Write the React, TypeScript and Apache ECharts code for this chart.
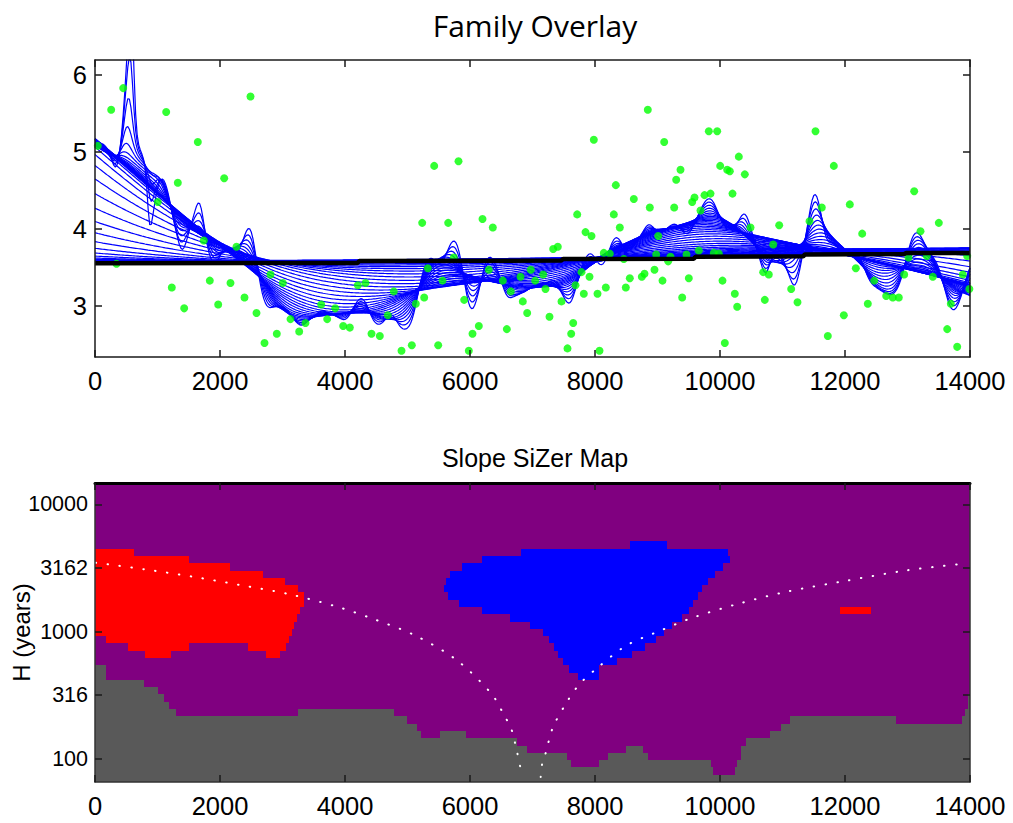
import React, { useEffect, useRef } from "react";
import * as echarts from "echarts";

// ---------- observations (age in years, proxy value) ----------
const ages = [
  45, 259, 344, 451, 1005, 1139, 1229, 1325, 1427, 1645, 1741, 1837, 1971, 2067, 2168, 2264, 2392, 2488, 2584, 2712, 2808, 2909, 3005, 3128, 3267, 3368,
  3619, 3715, 3843, 3971, 4077, 4205, 4328, 4424, 4557, 4685, 4781, 4904, 5069, 5133, 5235, 5267, 5325, 5427, 5491, 5560, 5651, 5741, 5816, 5907, 5981, 6040, 6141, 6200, 6301, 6365, 6525, 6589, 6653, 6808, 6845, 6915, 6973, 7043,
  7171, 7208, 7272, 7331, 7405, 7464, 7560, 7619, 7651, 7688, 7715, 7784, 7821, 7848, 7912, 7944, 7981, 8040, 8072, 8141, 8173, 8237, 8301, 8333, 8397, 8461, 8493, 8557, 8621, 8749, 8792, 8845, 8877, 8952, 8979, 9011, 9080, 9107, 9171, 9208, 9267, 9299, 9368, 9395, 9464, 9501, 9555, 9592, 9661, 9688, 9752, 9821, 9848, 9901, 9955, 9981, 10003, 10040, 10077, 10115, 10157, 10200, 10237, 10275, 10301, 10397, 10488,
  10691, 10717, 10781, 10851, 10947, 11139, 11240, 11432, 11528, 11629, 11725, 11821, 11981, 12077, 12173, 12275, 12365, 12467, 12659, 12765, 12861, 12947, 13016, 13107, 13208, 13309, 13405, 13501, 13635, 13693, 13795, 13885, 13955, 13990,
];
const values = [
  5.08, 5.55, 3.55, 5.83, 4.35, 5.52, 3.24, 4.6, 2.97, 5.13, 3.85, 3.33, 3.02, 4.66, 3.3, 3.77, 3.11, 5.72, 2.91, 2.52, 3.41, 2.64, 3.3, 2.83, 2.67, 2.78,
  3.02, 2.83, 2.97, 2.74, 2.72, 3.27, 3.3, 2.64, 2.61, 2.88, 3.19, 2.42, 2.49, 3.03, 4.08, 3.11, 3.49, 4.82, 2.49, 3.33, 4.08, 3.63, 4.88, 3.08, 2.42, 2.64, 2.74, 4.13, 3.47, 4.02, 3.33, 2.7, 3.19, 3.38, 3.06, 2.91, 3.47, 3.33,
  3.41, 3.22, 2.86, 3.74, 3.77, 3.06, 2.45, 2.64, 2.78, 3.27, 4.19, 3.44, 3.16, 3.96, 3.38, 3.91, 5.16, 3.16, 2.42, 3.69, 3.24, 3.68, 4.19, 4.57, 4.02, 3.61, 3.24, 3.36, 4.39, 3.38, 3.42, 5.55, 4.28, 3.47, 3.67, 3.91, 3.33, 5.13, 3.58, 3.64, 4.28, 4.64, 4.77, 3.11, 3.67, 3.36, 4.35, 4.41, 3.72, 4.24, 4.44, 5.27, 4.46, 3.69, 5.27, 3.68, 4.82, 3.33, 2.52, 4.77, 4.75, 4.46, 3.16, 2.99, 4.94, 4.71, 4.02,
  3.44, 3.08, 3.41, 3.8, 4.05, 3.22, 3.05, 4.1, 5.27, 4.28, 2.61, 4.82, 2.88, 4.32, 3.49, 3.94, 3.03, 3.33, 3.13, 3.11, 3.11, 3.41, 3.63, 4.49, 3.97, 3.65, 3.38, 4.08, 2.7, 3.03, 2.47, 3.41, 3.65, 3.22,
];

// highlighted wide-window smooth, as plotted (step-wise)
const highlightAges = [0, 4200, 4230, 7460, 7490, 9580, 9610, 11330, 11360, 12950, 12980, 14000];
const highlightValues = [3.555, 3.56, 3.585, 3.59, 3.61, 3.615, 3.64, 3.645, 3.67, 3.675, 3.688, 3.69];

// ---------- SiZer bandwidth grid (log10 H) ----------
const LOG_H_MIN = 1.818;
const LOG_H_STEP = 0.0573;
const BANDWIDTH_ROWS = 41;
const FAMILY_FIRST_ROW = 4;

// significant decrease: [row, fromAge, toAge]
const decreasingRows = [
  [31, 0, 624], [30, 0, 1504], [29, 0, 2160], [28, 0, 2693], [27, 0, 3040], [26, 0, 3243],
  [25, 0, 3344], [24, 0, 3344], [23, 0, 3280], [23, 11920, 12410], [22, 0, 3227], [21, 0, 3184],
  [20, 0, 3147], [19, 176, 3109], [18, 523, 1504], [18, 2453, 3051], [17, 800, 1216], [17, 2731, 2960],
];
// significant increase: [row, fromAge, toAge]
const increasingRows = [
  [32, 8560, 9147], [31, 6816, 10123], [30, 6187, 10160], [29, 5867, 10043], [28, 5680, 9920],
  [27, 5616, 9813], [26, 5589, 9717], [25, 5653, 9653], [24, 5829, 9573], [23, 6187, 9504],
  [22, 6640, 9387], [21, 6960, 9227], [20, 7173, 9104], [19, 7269, 8976], [18, 7344, 8800],
  [17, 7413, 8587], [16, 7483, 8347], [15, 7584, 8064], [14, 7723, 8064],
];
// too little data: [fromAge, toAge, rows covered from the bottom]
const sparseColumns = [
  [0, 176, 16], [176, 789, 14], [789, 1013, 13], [1013, 1104, 12], [1104, 1184, 11], [1184, 1291, 10],
  [1291, 3243, 9], [3243, 4784, 10], [4784, 4987, 9], [4987, 5147, 8], [5147, 5211, 7], [5211, 5520, 6],
  [5520, 5936, 7], [5936, 6747, 6], [6747, 6907, 5], [6907, 7547, 4], [7547, 7616, 3], [7616, 8064, 2],
  [8064, 8213, 3], [8213, 8496, 4], [8496, 8773, 5], [8773, 8843, 4], [8843, 9856, 3], [9856, 9893, 2],
  [9893, 10240, 1], [10240, 10277, 2], [10277, 10330, 3], [10330, 10416, 5], [10416, 10800, 6],
  [10800, 10976, 7], [10976, 11120, 8], [11120, 12816, 9], [12816, 13867, 8], [13867, 13920, 9],
  [13920, 13970, 10], [13970, 14000, 12],
];

// effective window guides (age, H)
const leftWindowEdge = [
  [10, 3475], [794, 3083], [1563, 2699], [2320, 2322], [3093, 1973], [3840, 1585], [4400, 1284],
  [5120, 933], [5787, 597], [6347, 323], [6560, 214], [6656, 175], [6757, 111], [6837, 72],
];
const rightWindowEdge = [
  [7131, 72], [7152, 90], [7211, 111], [7323, 175], [7509, 259], [7739, 380], [8027, 513],
  [8496, 774], [9029, 1009], [9573, 1291], [10320, 1667], [11067, 2057], [12027, 2512],
  [12987, 3027], [13947, 3436],
];

const xTicks = [0, 2000, 4000, 6000, 8000, 10000, 12000, 14000];
const valueTicks = [3, 4, 5, 6];
const logHTicks = [2, 2.5, 3, 3.5, 4];

const COLORS = ["#595959", "#ff0000", "#0000ff"];
const LABEL_FONT = "'Liberation Sans', Arial, sans-serif";

const rowEdge = (k: number) => LOG_H_MIN + k * LOG_H_STEP;
const LOG_H_MAX = rowEdge(BANDWIDTH_ROWS);

// Gaussian local-linear smooth of the observations
function localLinear(x0: number, h: number): number | null {
  let s0 = 0, s1 = 0, s2 = 0, t0 = 0, t1 = 0;
  for (let i = 0; i < ages.length; i++) {
    const d = ages[i] - x0;
    const w = Math.exp(-0.5 * (d / h) * (d / h));
    s0 += w; s1 += w * d; s2 += w * d * d; t0 += w * values[i]; t1 += w * d * values[i];
  }
  if (s0 < 1e-12) return null;
  const den = s0 * s2 - s1 * s1;
  if (den <= 1e-9 * s0 * s2) return t0 / s0;
  return (s2 * t0 - s1 * t1) / den;
}

function buildOption() {
  const evalAges: number[] = [];
  for (let x = xTicks[0]; x <= xTicks[xTicks.length - 1]; x += 25) evalAges.push(x);

  const familySeries: any[] = [];
  for (let k = FAMILY_FIRST_ROW; k < BANDWIDTH_ROWS; k++) {
    const h = Math.pow(10, rowEdge(k + 0.5));
    familySeries.push({
      type: "line",
      xAxisIndex: 0,
      yAxisIndex: 0,
      data: evalAges.map((x) => [x, localLinear(x, h)]),
      showSymbol: false,
      silent: true,
      lineStyle: { color: "#0000ff", width: 1.2 },
      z: 2,
    });
  }

  const cells: number[][] = [];
  sparseColumns.forEach(([a, b, top]) => cells.push([a, b, rowEdge(0) - 1, rowEdge(top), 0]));
  decreasingRows.forEach(([k, a, b]) => cells.push([a, b, rowEdge(k), rowEdge(k + 1), 1]));
  increasingRows.forEach(([k, a, b]) => cells.push([a, b, rowEdge(k), rowEdge(k + 1), 2]));

  const axisLineStyle = { color: "#1a1a1a", width: 1.5 };
  const tickStyle = { color: "#1a1a1a", width: 1.5 };
  const plainNumber = (v: number) => String(v);

  const xBase = (grid: number, position: string, showLabel: boolean, lineWidth = 1.5, lineColor = "#1a1a1a") => ({
    type: "value",
    gridIndex: grid,
    position,
    min: 0,
    max: 14000,
    interval: 2000,
    axisLine: { show: true, onZero: false, lineStyle: { color: lineColor, width: lineWidth } },
    axisTick: { show: true, inside: true, length: 7, lineStyle: tickStyle },
    axisLabel: { show: showLabel, fontSize: 25.5, color: "#000", margin: 11, fontFamily: LABEL_FONT, formatter: plainNumber },
    splitLine: { show: false },
    z: 10,
  });

  return {
    animation: false,
    backgroundColor: "#ffffff",
    title: [
      {
        text: "Family Overlay",
        left: 530,
        top: 5,
        textAlign: "center",
        textStyle: { fontFamily: "'Open Sans', sans-serif", fontSize: 30, fontWeight: "normal", color: "#000" },
      },
      {
        text: "Slope SiZer Map",
        left: 530,
        top: 440,
        textAlign: "center",
        textStyle: { fontFamily: LABEL_FONT, fontSize: 25, fontWeight: "normal", color: "#000" },
      },
    ],
    grid: [
      { left: 95, top: 60, width: 875, height: 297, show: false, outerBoundsMode: "none", containLabel: false },
      {
        left: 95, top: 483, width: 875, height: 299, show: true, backgroundColor: "#800080", borderWidth: 0,
        outerBoundsMode: "none", containLabel: false,
      },
    ],
    xAxis: [
      xBase(0, "bottom", true),
      xBase(0, "top", false),
      xBase(1, "bottom", true, 1.5, "#333"),
      xBase(1, "top", false, 3, "#000"),
    ],
    yAxis: [
      {
        type: "value",
        gridIndex: 0,
        position: "left",
        min: 2.338,
        max: 6.195,
        axisLine: { show: true, onZero: false, lineStyle: axisLineStyle },
        axisTick: { show: true, inside: true, length: 7, lineStyle: tickStyle, customValues: valueTicks },
        axisLabel: { fontSize: 25.5, color: "#000", margin: 8, fontFamily: LABEL_FONT, customValues: valueTicks },
        splitLine: { show: false },
        z: 10,
      },
      {
        type: "value",
        gridIndex: 0,
        position: "right",
        min: 2.338,
        max: 6.195,
        axisLine: { show: true, onZero: false, lineStyle: axisLineStyle },
        axisTick: { show: true, inside: true, length: 7, lineStyle: tickStyle, customValues: valueTicks },
        axisLabel: { show: false, customValues: valueTicks },
        splitLine: { show: false },
        z: 10,
      },
      {
        type: "value",
        gridIndex: 1,
        position: "left",
        min: LOG_H_MIN,
        max: LOG_H_MAX,
        name: "H (years)",
        nameLocation: "middle",
        nameGap: 62,
        nameMoveOverlap: false,
        nameTextStyle: { fontFamily: LABEL_FONT, fontSize: 24, color: "#000" },
        axisLine: { show: true, onZero: false, lineStyle: { color: "#333", width: 1.5 } },
        axisTick: { show: true, inside: true, length: 7, lineStyle: tickStyle, customValues: logHTicks },
        axisLabel: {
          fontSize: 21.5,
          color: "#000",
          margin: 7,
          fontFamily: LABEL_FONT,
          customValues: logHTicks,
          formatter: (v: number) => String(Math.round(Math.pow(10, v))),
        },
        splitLine: { show: false },
        z: 10,
      },
      {
        type: "value",
        gridIndex: 1,
        position: "right",
        min: LOG_H_MIN,
        max: LOG_H_MAX,
        axisLine: { show: true, onZero: false, lineStyle: { color: "#333", width: 1.5 } },
        axisTick: { show: true, inside: true, length: 7, lineStyle: tickStyle, customValues: logHTicks },
        axisLabel: { show: false, customValues: logHTicks },
        splitLine: { show: false },
        z: 10,
      },
    ],
    series: [
      ...familySeries,
      {
        type: "scatter",
        xAxisIndex: 0,
        yAxisIndex: 0,
        data: ages.map((a, i) => [a, values[i]]),
        symbolSize: 8,
        itemStyle: { color: "#00ff00" },
        silent: true,
        z: 3,
      },
      {
        type: "line",
        xAxisIndex: 0,
        yAxisIndex: 0,
        data: highlightAges.map((a, i) => [a, highlightValues[i]]),
        showSymbol: false,
        silent: true,
        lineStyle: { color: "#000", width: 4.5 },
        z: 4,
      },
      {
        type: "custom",
        xAxisIndex: 2,
        yAxisIndex: 2,
        data: cells,
        encode: { x: [0, 1], y: [2, 3] },
        clip: true,
        silent: true,
        z: 2,
        renderItem: (_params: any, api: any) => {
          const p0 = api.coord([api.value(0), api.value(3)]);
          const p1 = api.coord([api.value(1), api.value(2)]);
          const x0 = Math.round(p0[0]);
          const y0 = Math.round(p0[1]);
          const x1 = Math.round(p1[0]);
          const y1 = Math.round(p1[1]);
          return {
            type: "rect",
            shape: { x: x0, y: y0, width: x1 - x0, height: y1 - y0 },
            style: { fill: COLORS[api.value(4)] },
          };
        },
      },
      ...[leftWindowEdge, rightWindowEdge].map((edge) => ({
        type: "line",
        xAxisIndex: 2,
        yAxisIndex: 2,
        data: edge.map(([a, h]) => [a, Math.log10(h)]),
        smooth: 0.3,
        showSymbol: false,
        silent: true,
        lineStyle: { color: "#ffffff", width: 2, type: [0.5, 11.5], cap: "round" },
        z: 6,
      })),
    ],
  };
}

export default function App() {
  const ref = useRef<HTMLDivElement>(null);
  useEffect(() => {
    if (!ref.current) return;
    const chart = echarts.init(ref.current, undefined, { renderer: "svg" });
    chart.setOption(buildOption() as any);
    return () => chart.dispose();
  }, []);
  return (
    <div
      ref={ref}
      style={{ position: "fixed", left: 0, top: 0, width: 1013, height: 823, background: "#fff" }}
    />
  );
}
